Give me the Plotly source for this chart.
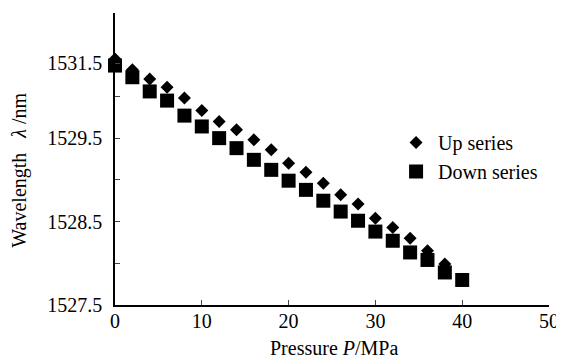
import plotly.graph_objects as go

pressure = [0, 2, 4, 6, 8, 10, 12, 14, 16, 18, 20, 22, 24, 26, 28, 30, 32, 34, 36, 38, 40]
up_series = [1530.45, 1530.32, 1530.21, 1530.11, 1529.98, 1529.83, 1529.70, 1529.60, 1529.48, 1529.36,
             1529.20, 1529.09, 1528.96, 1528.82, 1528.71, 1528.54, 1528.43, 1528.30, 1528.15, 1527.99, 1527.81]
down_series = [1530.37, 1530.23, 1530.06, 1529.95, 1529.77, 1529.64, 1529.50, 1529.38, 1529.24, 1529.12,
               1528.99, 1528.88, 1528.75, 1528.62, 1528.51, 1528.38, 1528.27, 1528.13, 1528.04, 1527.89, 1527.80]

x_ticks = [0, 10, 20, 30, 40, 50]
y_tick_vals = [1527.5, 1528.5, 1529.5, 1530.4]
y_tick_text = ["1527.5", "1528.5", "1529.5", "1531.5"]
y_minor_vals = [1528.0, 1529.0, 1530.0, 1531.0]

FONT = "Liberation Serif"

# page body has an 8px margin, so the figure is 8px smaller than the window
L, T, PW, PH = 107, 5, 437, 292

fig = go.Figure()
fig.add_trace(go.Scatter(x=pressure, y=down_series, mode="markers", name="Down series",
                         legendgroup="b", legendrank=2,
                         marker=dict(symbol="square", size=14, color="black"), cliponaxis=False))
fig.add_trace(go.Scatter(x=pressure, y=up_series, mode="markers", name="Up series",
                         legendgroup="a", legendrank=1,
                         marker=dict(symbol="diamond", size=10, color="black"), cliponaxis=False))

fig.update_layout(
    width=556, height=350,
    margin=dict(l=L, r=12, t=T, b=53),
    paper_bgcolor="white", plot_bgcolor="white",
    font=dict(family=FONT, size=20, color="black"),
    showlegend=True,
    legend=dict(x=(388 - L) / PW, y=(T + PH - 149) / PH, xanchor="left", yanchor="middle",
                bgcolor="rgba(0,0,0,0)", font=dict(family=FONT, size=20),
                traceorder="grouped", tracegroupgap=0, itemwidth=34),
    xaxis=dict(range=[0, 50], tickvals=x_ticks, ticks="inside", ticklen=5, tickwidth=1.2,
               ticklabelstandoff=-3,
               showline=True, linecolor="black", linewidth=1.5, showgrid=False, zeroline=False,
               tickfont=dict(family=FONT, size=20)),
    yaxis=dict(range=[1527.5, 1531.0], tickvals=y_tick_vals, ticktext=y_tick_text,
               ticks="inside", ticklen=5, tickwidth=1.2, ticklabelstandoff=7,
               minor=dict(tickvals=y_minor_vals, ticks="inside", ticklen=5, tickwidth=1.2, showgrid=False),
               showline=True, linecolor="black", linewidth=1.5, showgrid=False, zeroline=False,
               tickfont=dict(family=FONT, size=20)),
    annotations=[
        dict(text="Pressure <i>P</i>/MPa", xref="paper", yref="paper", x=(327.5 - L) / PW, y=(T + PH - 340) / PH,
             xanchor="center", yanchor="middle", showarrow=False, font=dict(family=FONT, size=20)),
        dict(text="Wavelength\u00a0\u00a0 <i>λ</i> /nm", xref="paper", yref="paper",
             x=(10 - L) / PW, y=(T + PH - 162) / PH, textangle=-90,
             xanchor="center", yanchor="middle", showarrow=False, font=dict(family=FONT, size=20)),
    ],
)

fig.write_html("out.html")
